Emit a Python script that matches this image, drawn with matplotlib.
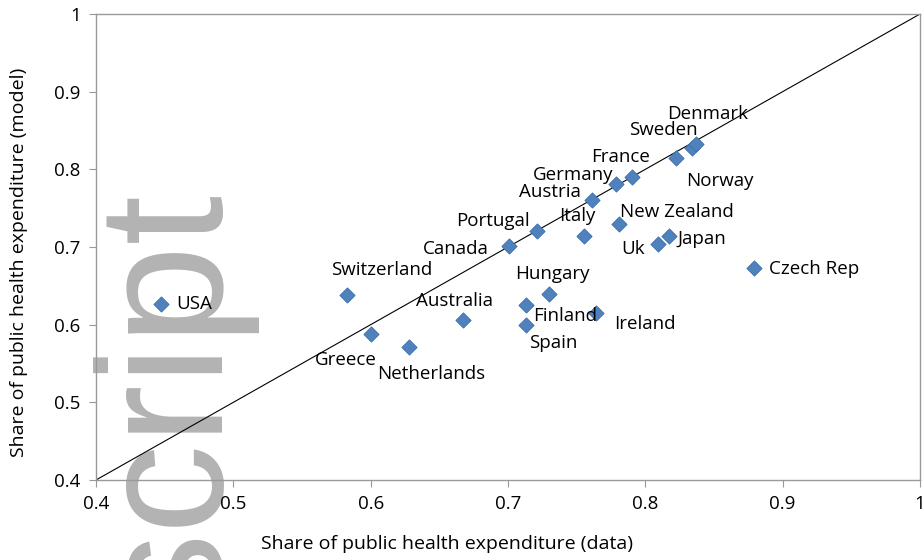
import matplotlib.pyplot as plt
import numpy as np

plt.rcParams['font.family'] = ['Open Sans', 'DejaVu Sans']

# Data
countries = ["USA", "Switzerland", "Greece", "Netherlands", "Australia", "Canada",
             "Portugal", "Italy", "Austria", "Germany", "France", "Norway",
             "Sweden", "Denmark", "New Zealand", "Uk", "Japan", "Czech Rep",
             "Hungary", "Finland", "Spain", "Ireland"]
share_data = [0.447, 0.583, 0.600, 0.628, 0.667, 0.701,
              0.721, 0.755, 0.761, 0.779, 0.790, 0.822,
              0.834, 0.837, 0.781, 0.809, 0.817, 0.879,
              0.730, 0.713, 0.713, 0.764]
share_model = [0.627, 0.638, 0.588, 0.571, 0.606, 0.701,
               0.720, 0.714, 0.760, 0.781, 0.790, 0.814,
               0.828, 0.832, 0.729, 0.704, 0.714, 0.673,
               0.639, 0.625, 0.600, 0.615]
ticks = [0.4, 0.5, 0.6, 0.7, 0.8, 0.9, 1.0]
tick_labels = ["0.4", "0.5", "0.6", "0.7", "0.8", "0.9", "1"]

# label offsets in pixels (dx, dy up) from each marker to label centre
offsets = {
    "USA": (34, 0), "Switzerland": (34, 25), "Greece": (-25, -26),
    "Netherlands": (22, -27), "Australia": (-8, 19), "Canada": (-54, -3),
    "Portugal": (-44, 10), "Italy": (-6, 20), "Austria": (-42, 8),
    "Germany": (-43, 9), "France": (-11, 20), "Norway": (44, -23),
    "Sweden": (-29, 18), "Denmark": (11, 30), "New Zealand": (58, 12),
    "Uk": (-25, -5), "Japan": (33, -3), "Czech Rep": (60, -1),
    "Hungary": (3, 20), "Finland": (39, -11), "Spain": (27, -18),
    "Ireland": (49, -11),
}

dpi = 100
fig = plt.figure(figsize=(9.22, 5.60), dpi=dpi)
ax = fig.add_axes([96 / 922, 80 / 560, 824 / 922, 466 / 560])
ax.set_facecolor('none')
ax.set_zorder(2)

# watermark behind the plot
fig.text(218 / 922, 1 - 190 / 560, "script", rotation=90, rotation_mode='anchor',
         ha='right', va='baseline', fontsize=129, color='#b3b3b3',
         family='Liberation Sans', zorder=0)

ax.plot([0.4, 1.0], [0.4, 1.0], color='black', linewidth=0.8, zorder=2)
ax.scatter(share_data, share_model, marker='D', s=60, color='#4F81BD',
           edgecolors='#3d6ea8', linewidths=0.6, zorder=3)

px = 72 / dpi
for name, x, y in zip(countries, share_data, share_model):
    dx, dy = offsets[name]
    ax.annotate(name, (x, y), xytext=(dx * px, dy * px), textcoords='offset points',
                ha='center', va='center', fontsize=13.5, color='black', zorder=4)

ax.set_xlim(0.4, 1.0)
ax.set_ylim(0.4, 1.0)
ax.set_xticks(ticks)
ax.set_yticks(ticks)
ax.set_xticklabels(tick_labels)
ax.set_yticklabels(tick_labels)
for s in ax.spines.values():
    s.set_color('#999999')
    s.set_linewidth(1.0)
ax.tick_params(direction='out', length=5, color='#999999', labelsize=13.5, pad=6)

ax.set_xlabel("Share of public health expenditure (data)", fontsize=14)
ax.set_ylabel("Share of public health expenditure (model)", fontsize=14)
ax.xaxis.set_label_coords(0.426, -0.118)
ax.yaxis.set_label_coords(-0.082, 0.466)

fig.savefig("out.png", dpi=dpi)
